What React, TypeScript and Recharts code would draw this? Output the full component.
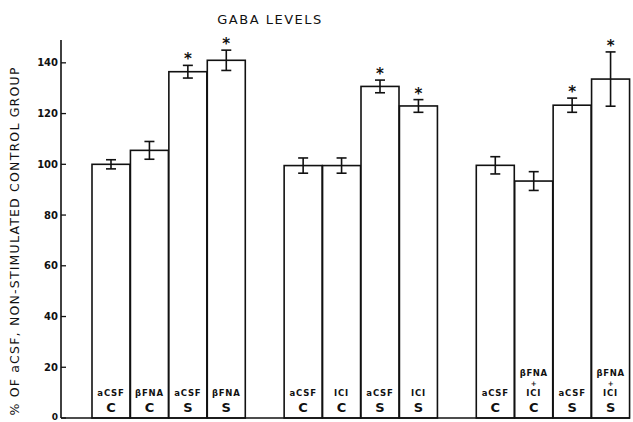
import { Bar, BarChart, ErrorBar, XAxis, YAxis } from "recharts";

// one slot per bar; the two null slots are the gaps between groups
const slots = ["a1", "a2", "a3", "a4", "gap1", "b1", "b2", "b3", "b4", "gap2", "c1", "c2", "c3", "c4"];
const treatments = ["aCSF", "βFNA", "aCSF", "βFNA", null, "aCSF", "ICI", "aCSF", "ICI", null, "aCSF", "βFNA+ICI", "aCSF", "βFNA+ICI"];
const conditions = ["C", "C", "S", "S", null, "C", "C", "S", "S", null, "C", "C", "S", "S"];
const gabaLevels = [100, 105.5, 136.5, 141, null, 99.5, 99.5, 130.7, 123, null, 99.6, 93.4, 123.3, 133.6];
const semValues = [1.8, 3.5, 2.5, 4, null, 3, 3, 2.5, 2.5, null, 3.4, 3.7, 2.8, 10.7];
const significant = [false, false, true, true, false, false, false, true, true, false, false, false, true, true];
const yTicks = [0, 20, 40, 60, 80, 100, 120, 140];

const data = slots.map((slot, i) => ({
  slot,
  treatment: treatments[i],
  condition: conditions[i],
  value: gabaLevels[i],
  err: semValues[i],
  star: significant[i],
}));

const FONT = "'DejaVu Sans', sans-serif";
const INK = "#111";

// plain outlined bar with its label inside and the asterisk above
function LabelledBar(props: any) {
  const { x, y, width, height, payload } = props;
  if (payload.value == null || !height) return null;
  const cx = x + width / 2;
  const bottom = y + height;
  const perUnit = height / payload.value;
  const errTop = y - payload.err * perUnit;
  const parts: string[] = payload.treatment.split("+");
  return (
    <g>
      <rect x={x} y={y} width={width} height={height} fill="#fff" stroke={INK} strokeWidth={1.6} />
      {parts.length > 1 && (
        <>
          <text x={cx} y={bottom - 42} textAnchor="middle" fontFamily={FONT} fontWeight="bold" fontSize={8.5} letterSpacing={0.6} fill={INK}>
            {parts[0]}
          </text>
          <text x={cx} y={bottom - 32} textAnchor="middle" fontFamily={FONT} fontWeight="bold" fontSize={7} fill={INK}>
            +
          </text>
        </>
      )}
      <text x={cx} y={bottom - 22} textAnchor="middle" fontFamily={FONT} fontWeight="bold" fontSize={8.5} letterSpacing={0.8} fill={INK}>
        {parts[parts.length - 1]}
      </text>
      <text x={cx} y={bottom - 6} textAnchor="middle" fontFamily={FONT} fontWeight="bold" fontSize={13} fill={INK}>
        {payload.condition}
      </text>
      {payload.star && (
        <text x={cx} y={errTop - 1} textAnchor="middle" fontFamily={FONT} fontWeight="bold" fontSize={15} fill={INK}>
          *
        </text>
      )}
    </g>
  );
}

// tick marks point into the plot, labels sit left of the axis
function YTick(props: any) {
  const { x, y, payload } = props;
  return (
    <g>
      <line x1={x} x2={x + 5} y1={y} y2={y} stroke={INK} strokeWidth={1.3} />
      <text
        x={x - 3}
        y={payload.value === 0 ? y + 1.5 : y + 3.5}
        textAnchor="end"
        fontFamily={FONT}
        fontWeight="bold"
        fontSize={payload.value === 0 ? 9 : 10}
        fill={INK}
      >
        {payload.value}
      </text>
    </g>
  );
}

function YLabel() {
  return (
    <text
      x={14}
      y={241}
      transform="rotate(-90 14 241)"
      textAnchor="middle"
      dominantBaseline="central"
      fontFamily={FONT}
      fontSize={12.5}
      letterSpacing={1.2}
      fill={INK}
    >
      % OF aCSF, NON-STIMULATED CONTROL GROUP
    </text>
  );
}

export default function App() {
  return (
    <div style={{ position: "absolute", left: 0, top: 0, width: 633, height: 422, background: "#fff" }}>
      <div
        style={{
          position: "absolute",
          left: 0,
          top: 12,
          width: 540,
          textAlign: "center",
          fontFamily: FONT,
          fontSize: 13,
          letterSpacing: 1.5,
          color: INK,
        }}
      >
        GABA LEVELS
      </div>
      <BarChart
        width={633}
        height={422}
        data={data}
        margin={{ top: 40, right: 3, bottom: 3, left: 0 }}
        barCategoryGap={0}
      >
        <XAxis
          dataKey="slot"
          tick={false}
          tickLine={false}
          axisLine={{ stroke: INK, strokeWidth: 1.6 }}
          padding={{ left: 31, right: 0 }}
          height={1}
        />
        <YAxis
          type="number"
          domain={[0, 149]}
          ticks={yTicks}
          interval={0}
          width={61}
          tick={<YTick />}
          tickLine={false}
          tickSize={0}
          tickMargin={0}
          axisLine={{ stroke: INK, strokeWidth: 1.6 }}
          label={<YLabel />}
        />
        <Bar dataKey="value" shape={<LabelledBar />} isAnimationActive={false}>
          <ErrorBar dataKey="err" width={5} stroke={INK} strokeWidth={1.6} direction="y" />
        </Bar>
      </BarChart>
    </div>
  );
}
